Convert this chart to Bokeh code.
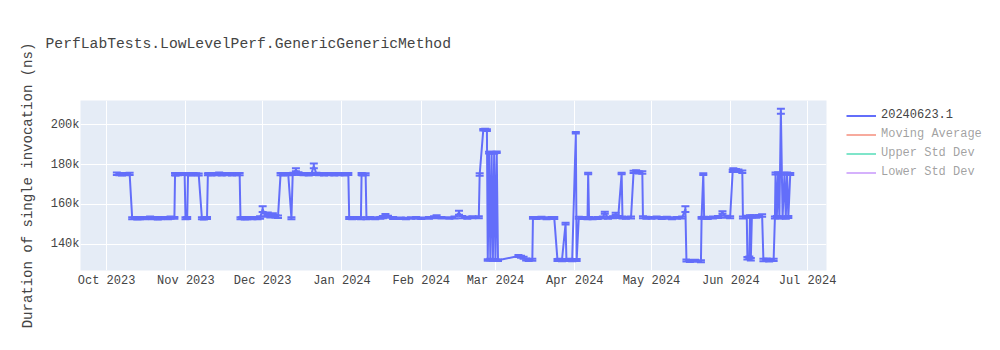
import numpy as np
import pandas as pd
from bokeh.plotting import figure
from bokeh.layouts import row
from bokeh.models import (ColumnDataSource, Range1d, FixedTicker, DatetimeTickFormatter,
                          Legend, LegendItem, Title)
from bokeh.embed import file_html
from bokeh.resources import INLINE

# ---------------- data ----------------
run_dates = [
    "2023-10-05", "2023-10-06", "2023-10-07", "2023-10-08", "2023-10-09", "2023-10-10",
    "2023-10-11", "2023-10-12", "2023-10-13", "2023-10-14", "2023-10-15", "2023-10-16",
    "2023-10-17", "2023-10-18", "2023-10-19", "2023-10-20", "2023-10-21", "2023-10-22",
    "2023-10-23", "2023-10-24", "2023-10-25", "2023-10-26", "2023-10-27 12:00", "2023-10-27 18:00",
    "2023-10-28", "2023-10-29", "2023-10-30", "2023-10-31 12:00", "2023-10-31 20:00", "2023-11-01 12:00",
    "2023-11-01 20:00", "2023-11-02", "2023-11-03", "2023-11-04", "2023-11-05", "2023-11-06",
    "2023-11-07 06:00", "2023-11-08", "2023-11-09 06:00", "2023-11-09 14:00", "2023-11-10", "2023-11-11",
    "2023-11-12", "2023-11-13", "2023-11-14", "2023-11-15", "2023-11-16", "2023-11-17",
    "2023-11-18", "2023-11-19", "2023-11-20", "2023-11-21", "2023-11-22", "2023-11-22 08:00",
    "2023-11-23", "2023-11-24", "2023-11-25", "2023-11-26", "2023-11-27", "2023-11-28",
    "2023-11-29", "2023-11-30", "2023-12-01", "2023-12-02", "2023-12-03", "2023-12-04",
    "2023-12-05", "2023-12-06", "2023-12-07", "2023-12-08", "2023-12-09", "2023-12-10",
    "2023-12-11", "2023-12-12 06:00", "2023-12-12 18:00", "2023-12-13", "2023-12-14", "2023-12-15",
    "2023-12-16", "2023-12-17", "2023-12-18", "2023-12-19", "2023-12-20", "2023-12-21",
    "2023-12-22", "2023-12-23", "2023-12-24", "2023-12-25", "2023-12-26", "2023-12-27",
    "2023-12-28", "2023-12-29", "2023-12-30", "2023-12-31", "2024-01-01", "2024-01-02",
    "2024-01-03 12:00", "2024-01-03 20:00", "2024-01-05", "2024-01-06", "2024-01-07", "2024-01-08 10:00",
    "2024-01-08 16:00", "2024-01-09", "2024-01-10 06:00", "2024-01-10 14:00", "2024-01-12", "2024-01-14",
    "2024-01-16", "2024-01-17", "2024-01-18", "2024-01-19", "2024-01-21", "2024-01-24",
    "2024-01-26", "2024-01-28", "2024-01-30", "2024-02-01", "2024-02-04", "2024-02-06",
    "2024-02-07", "2024-02-09", "2024-02-12", "2024-02-14", "2024-02-15 18:00", "2024-02-17",
    "2024-02-19", "2024-02-21", "2024-02-23 12:00", "2024-02-23 20:00", "2024-02-25 06:00", "2024-02-26",
    "2024-02-26 16:00", "2024-02-27 00:00", "2024-02-27 12:00", "2024-02-28 00:00", "2024-02-28 12:00", "2024-02-29 00:00",
    "2024-02-29 12:00", "2024-03-01 00:00", "2024-03-01 12:00", "2024-03-02 00:00", "2024-03-10", "2024-03-11", "2024-03-12",
    "2024-03-13", "2024-03-14", "2024-03-15 10:00", "2024-03-15 16:00", "2024-03-17", "2024-03-19",
    "2024-03-21", "2024-03-23", "2024-03-24", "2024-03-25 06:00", "2024-03-26", "2024-03-27",
    "2024-03-28 10:00", "2024-03-28 18:00", "2024-03-30", "2024-03-31", "2024-04-01 10:00", "2024-04-01 18:00",
    "2024-04-02 14:00", "2024-04-04", "2024-04-06", "2024-04-06 06:00", "2024-04-06 14:00", "2024-04-08",
    "2024-04-10", "2024-04-12", "2024-04-12 18:00", "2024-04-14", "2024-04-16", "2024-04-17",
    "2024-04-18", "2024-04-19 08:00", "2024-04-19 16:00", "2024-04-21", "2024-04-23", "2024-04-24 00:00",
    "2024-04-25", "2024-04-26", "2024-04-27 10:00", "2024-04-27 16:00", "2024-04-29", "2024-05-01",
    "2024-05-03", "2024-05-05", "2024-05-07", "2024-05-09", "2024-05-11", "2024-05-13",
    "2024-05-14 06:00", "2024-05-14 16:00", "2024-05-16", "2024-05-18", "2024-05-20 08:00", "2024-05-20 14:00",
    "2024-05-21 06:00", "2024-05-21 14:00", "2024-05-23", "2024-05-25", "2024-05-27", "2024-05-28 18:00",
    "2024-05-30", "2024-05-31 18:00", "2024-06-01 18:00", "2024-06-02", "2024-06-03", "2024-06-04",
    "2024-06-05 12:00", "2024-06-05 18:00", "2024-06-07 06:00", "2024-06-07 12:00", "2024-06-08 06:00", "2024-06-08 12:00",
    "2024-06-08 20:00", "2024-06-09 06:00", "2024-06-10", "2024-06-11", "2024-06-12", "2024-06-13 06:00",
    "2024-06-13 18:00", "2024-06-15", "2024-06-16", "2024-06-17 18:00", "2024-06-18 06:00", "2024-06-18 12:00",
    "2024-06-19", "2024-06-19 12:00", "2024-06-20 00:00", "2024-06-20 14:00", "2024-06-21 06:00", "2024-06-22 00:00",
    "2024-06-22 12:00", "2024-06-23 00:00", "2024-06-23 12:00", "2024-06-24 06:00",
]

duration_k = [
    175.4, 175.1, 175.0, 175.2, 175.1, 175.3,
    153.0, 153.1, 152.9, 153.0, 153.2, 153.0,
    153.1, 153.3, 153.0, 153.1, 152.9, 153.0,
    153.2, 153.1, 153.0, 153.3, 153.2, 175.2,
    175.0, 175.1, 175.3, 175.2, 153.0, 153.1,
    175.1, 175.3, 175.0, 175.2, 175.1, 175.0,
    153.0, 152.9, 153.1, 175.1, 175.3, 175.0,
    175.2, 175.1, 175.4, 175.0, 175.2, 175.1,
    175.3, 175.0, 175.2, 175.1, 175.2, 153.0,
    153.1, 152.9, 153.0, 153.2, 153.0, 153.1,
    153.0, 153.4, 157.6, 154.6, 155.2, 154.2,
    154.8, 154.0, 153.8, 175.2, 175.0, 175.3,
    175.1, 153.0, 175.2, 175.4, 177.4, 175.6,
    175.2, 175.1, 175.3, 175.0, 175.2, 179.3,
    175.4, 175.1, 175.2, 175.0, 175.3, 175.1,
    175.2, 175.0, 175.2, 175.1, 175.3, 175.0,
    175.2, 153.1, 153.0, 153.2, 153.1, 153.0,
    175.2, 175.0, 175.1, 153.0, 153.1, 153.0,
    153.2, 153.6, 154.6, 153.8, 153.1, 153.0,
    152.9, 153.1, 153.2, 153.0, 153.2, 153.5,
    153.9, 153.3, 153.1, 153.4, 155.8, 153.6,
    153.3, 153.5, 153.5, 175.0, 197.5, 197.6,
    197.3, 132.0, 186.0, 132.2, 186.1, 132.0,
    185.8, 132.1, 186.2, 131.9, 134.0, 133.7, 133.2,
    132.3, 132.0, 132.1, 153.2, 153.1, 153.3,
    153.0, 153.2, 153.1, 132.0, 132.1, 131.9,
    150.3, 132.0, 132.1, 131.9, 196.0, 132.0,
    153.3, 153.1, 153.0, 175.5, 153.2, 153.0,
    153.1, 153.4, 155.8, 153.3, 153.5, 155.2,
    153.6, 175.5, 153.4, 153.2, 153.4, 176.3,
    176.5, 176.1, 176.0, 153.5, 153.3, 153.2,
    153.4, 153.1, 153.3, 153.0, 153.2, 153.4,
    157.6, 131.8, 131.5, 131.6, 131.4, 153.2,
    175.2, 153.3, 153.1, 153.4, 153.6, 155.9,
    153.8, 153.5, 176.8, 177.6, 177.2, 176.9,
    176.4, 153.4, 153.8, 132.9, 133.2, 154.0,
    132.4, 153.9, 154.0, 153.8, 154.1, 154.4,
    132.0, 132.2, 131.9, 132.1, 153.4, 175.5,
    153.6, 175.6, 153.4, 206.8, 153.5, 175.4,
    153.3, 175.5, 153.6, 175.3,
]

stddev_k = [
    0.6, 0.5, 0.5, 0.5, 0.5, 0.6,
    0.5, 0.5, 0.5, 0.5, 0.5, 0.5,
    0.5, 0.6, 0.5, 0.5, 0.5, 0.5,
    0.5, 0.5, 0.5, 0.6, 0.5, 0.6,
    0.5, 0.5, 0.5, 0.5, 0.5, 0.5,
    0.5, 0.5, 0.5, 0.5, 0.5, 0.5,
    0.5, 0.5, 0.5, 0.5, 0.5, 0.5,
    0.5, 0.5, 0.6, 0.5, 0.5, 0.5,
    0.5, 0.5, 0.5, 0.5, 0.6, 0.5,
    0.5, 0.5, 0.5, 0.5, 0.5, 0.5,
    0.5, 0.6, 1.4, 0.8, 0.7, 0.8,
    0.7, 0.6, 0.6, 0.6, 0.5, 0.5,
    0.5, 0.5, 0.5, 0.5, 0.7, 0.5,
    0.5, 0.5, 0.5, 0.5, 0.5, 1.2,
    0.5, 0.5, 0.5, 0.5, 0.5, 0.5,
    0.5, 0.5, 0.5, 0.5, 0.5, 0.5,
    0.5, 0.5, 0.5, 0.5, 0.5, 0.5,
    0.5, 0.5, 0.5, 0.5, 0.5, 0.5,
    0.5, 0.6, 0.6, 0.5, 0.5, 0.4,
    0.4, 0.4, 0.4, 0.4, 0.4, 0.5,
    0.6, 0.4, 0.4, 0.5, 1.0, 0.6,
    0.5, 0.5, 0.5, 0.6, 0.4, 0.4,
    0.4, 0.4, 0.4, 0.4, 0.4, 0.4,
    0.4, 0.4, 0.4, 0.4, 0.5, 0.5, 0.5,
    0.5, 0.5, 0.5, 0.5, 0.5, 0.5,
    0.5, 0.5, 0.5, 0.5, 0.5, 0.5,
    0.4, 0.5, 0.5, 0.5, 0.4, 0.5,
    0.5, 0.5, 0.5, 0.4, 0.5, 0.5,
    0.5, 0.5, 0.5, 0.5, 0.5, 0.6,
    0.5, 0.4, 0.5, 0.5, 0.5, 0.6,
    0.6, 0.6, 0.6, 0.5, 0.5, 0.5,
    0.5, 0.5, 0.5, 0.5, 0.5, 0.5,
    1.4, 0.5, 0.5, 0.5, 0.5, 0.5,
    0.4, 0.5, 0.5, 0.5, 0.5, 0.6,
    0.5, 0.5, 0.6, 0.6, 0.6, 0.6,
    0.6, 0.5, 0.5, 0.6, 0.6, 0.5,
    0.6, 0.5, 0.5, 0.5, 0.5, 0.6,
    0.6, 0.6, 0.6, 0.6, 0.5, 0.5,
    0.5, 0.5, 0.5, 1.3, 0.5, 0.5,
    0.5, 0.5, 0.5, 0.5,
]

x_ticks = ["2023-10-01", "2023-11-01", "2023-12-01", "2024-01-01", "2024-02-01",
           "2024-03-01", "2024-04-01", "2024-05-01", "2024-06-01", "2024-07-01"]
x_tick_labels = ["Oct 2023", "Nov 2023", "Dec 2023", "Jan 2024", "Feb 2024",
                 "Mar 2024", "Apr 2024", "May 2024", "Jun 2024", "Jul 2024"]
y_ticks = [140000, 160000, 180000, 200000]
y_tick_labels = ["140k", "160k", "180k", "200k"]

series_names = ["20240623.1", "Moving Average", "Upper Std Dev", "Lower Std Dev"]
series_colors = ["#636efa", "#EF553B", "#00CC96", "#AB63FA"]

title_text = "PerfLabTests.LowLevelPerf.GenericGenericMethod"
y_title = "Duration of single invocation (ns)"

assert len(run_dates) == len(duration_k) == len(stddev_k)

# ---------------- build ----------------
FONT = "Liberation Mono"
TXT = "#444444"

xs = pd.to_datetime(run_dates, format="mixed")
ys = np.array(duration_k) * 1000.0
es = np.array(stddev_k) * 1000.0
src = ColumnDataSource(dict(x=xs, y=ys, lo=ys - es, hi=ys + es))

p = figure(width=840, height=350, x_axis_type="datetime",
           output_backend="svg", toolbar_location=None,
           x_range=Range1d(pd.Timestamp("2023-09-20 19:00"), pd.Timestamp("2024-07-08 10:00")),
           y_range=Range1d(126750, 212200),
           min_border_left=80, min_border_right=14, min_border_top=100, min_border_bottom=80)

p.title.text = title_text
p.title.text_font = FONT
p.title.text_font_size = "14.7px"
p.title.text_font_style = "normal"
p.title.text_color = TXT
p.title.align = "left"
p.title.offset = -35
p.title.standoff = 10

# blank spacer panel between the title and the plot area
spacer = Title(text=" ", text_font_size="12px", standoff=28)
p.add_layout(spacer, "above")

p.background_fill_color = "#E5ECF6"
p.border_fill_color = "white"
p.outline_line_color = None

for g in (p.xgrid, p.ygrid):
    g.grid_line_color = "white"
    g.grid_line_width = 1

tick_ms = [int(pd.Timestamp(t).value // 10**6) for t in x_ticks]
p.xaxis.ticker = FixedTicker(ticks=tick_ms)
p.xaxis.formatter = DatetimeTickFormatter(days="%b %Y", months="%b %Y", years="%b %Y")
p.xaxis.major_label_overrides = {m: l for m, l in zip(tick_ms, x_tick_labels)}
p.yaxis.ticker = FixedTicker(ticks=y_ticks)
p.yaxis.major_label_overrides = {t: l for t, l in zip(y_ticks, y_tick_labels)}

for ax in (p.xaxis, p.yaxis):
    ax.axis_line_color = None
    ax.major_tick_line_color = None
    ax.minor_tick_line_color = None
    ax.major_tick_out = 0
    ax.major_label_text_font = FONT
    ax.major_label_text_font_size = "12px"
    ax.major_label_text_color = TXT
p.xaxis.major_label_standoff = 3
p.yaxis.major_label_standoff = 1

p.yaxis.axis_label = y_title
p.yaxis.axis_label_text_font = FONT
p.yaxis.axis_label_text_font_size = "14px"
p.yaxis.axis_label_text_font_style = "normal"
p.yaxis.axis_label_text_color = TXT
p.yaxis.axis_label_standoff = 12

main = p.line("x", "y", source=src, line_color=series_colors[0], line_width=2)
p.segment(x0="x", y0="lo", x1="x", y1="hi", source=src, line_color=series_colors[0], line_width=2)
p.scatter("x", "hi", source=src, marker="dash", size=8, line_color=series_colors[0], line_width=2)
p.scatter("x", "lo", source=src, marker="dash", size=8, line_color=series_colors[0], line_width=2)

# ---------------- legend panel (separate strip to the right) ----------------
# its ranges are 0..1, so the data-backed renderers below fall outside the view:
# they only serve as legend glyph sources
lf = figure(width=160, height=350, output_backend="svg", toolbar_location=None,
            x_axis_location=None, y_axis_location=None,
            x_range=Range1d(0, 1), y_range=Range1d(0, 1), min_border=0)
lf.outline_line_color = None
lf.background_fill_color = "white"
lf.border_fill_color = "white"
lf.xgrid.visible = False
lf.ygrid.visible = False

leg_main_r = lf.line("x", "y", source=src, line_color=series_colors[0], line_width=2)
faded_items = []
for name, col in zip(series_names[1:], series_colors[1:]):
    r = lf.line("x", "y", source=src, line_color=col, line_alpha=0.5, line_width=2)
    faded_items.append(LegendItem(label=name, renderers=[r]))

common = dict(glyph_width=30, glyph_height=19, label_height=19, label_standoff=5,
              spacing=0, padding=0, margin=0, border_line_color=None,
              background_fill_alpha=0, label_text_font=FONT, label_text_font_size="12px",
              label_text_color=TXT)
# the legend strip's plot area is aligned with the main plot area (y 100..270)
leg1 = Legend(items=[LegendItem(label=series_names[0], renderers=[leg_main_r])],
              location=(6, 145.5), **common)
leg2 = Legend(items=faded_items, location=(6, 88.5), label_text_alpha=0.5, **common)
lf.add_layout(leg1, "center")
lf.add_layout(leg2, "center")

layout = row(p, lf, spacing=0)
open("out.html", "w").write(file_html(layout, INLINE))
